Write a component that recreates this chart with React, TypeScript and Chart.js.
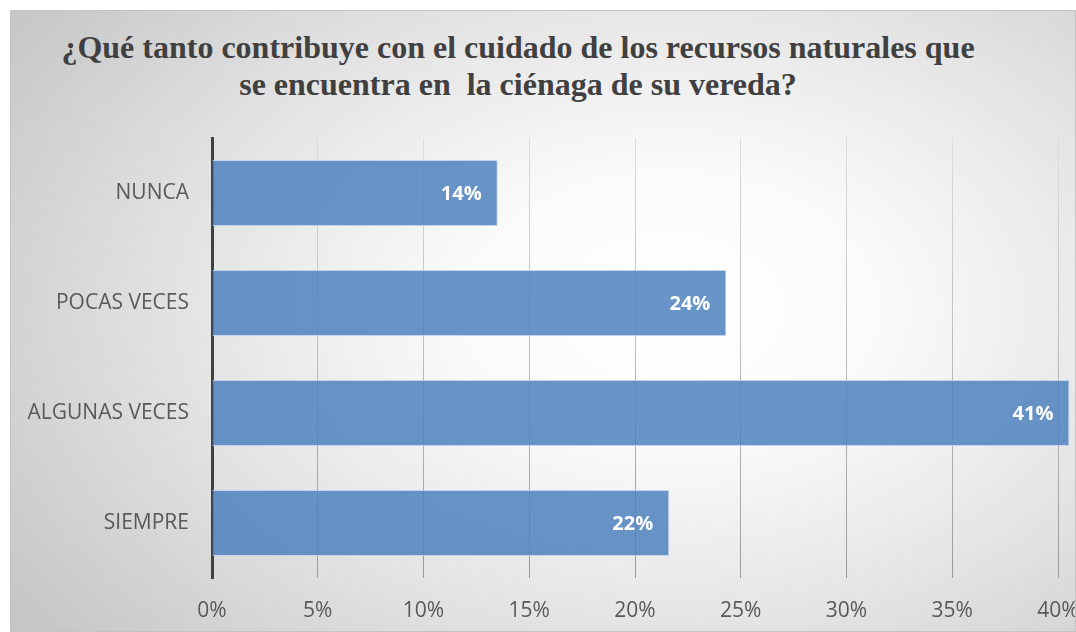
import React, { useEffect, useRef } from 'react';
import { Chart, registerables } from 'chart.js';

Chart.register(...registerables);

const titleLines = [
  '¿Qué tanto contribuye con el cuidado de los recursos naturales que',
  'se encuentra en  la ciénaga de su vereda?',
];
const categories = ['NUNCA', 'POCAS VECES', 'ALGUNAS VECES', 'SIEMPRE'];
const values = [13.51, 24.32, 40.54, 21.62];
const xMin = 0;
const xMax = 40;
const xStep = 5;

const barLabels = {
  id: 'barLabels',
  afterDatasetsDraw(chart: any) {
    const ctx = chart.ctx;
    const meta = chart.getDatasetMeta(0);
    ctx.save();
    ctx.font = 'bold 20px "Open Sans"';
    ctx.fillStyle = '#ffffff';
    ctx.textAlign = 'right';
    ctx.textBaseline = 'middle';
    meta.data.forEach((bar: any, i: number) => {
      ctx.fillText(Math.round(values[i]) + '%', bar.x - 16, bar.y + 1);
    });
    ctx.restore();
  },
};

export default function App() {
  const ref = useRef<HTMLCanvasElement | null>(null);

  useEffect(() => {
    if (!ref.current) return;
    const chart = new Chart(ref.current, {
      type: 'bar',
      data: {
        labels: categories,
        datasets: [
          {
            data: values,
            backgroundColor: 'rgba(79,129,189,0.85)',
            borderColor: 'rgba(190,210,236,0.9)',
            borderWidth: 1,
            barPercentage: 0.6,
            categoryPercentage: 1,
            clip: false as any,
          },
        ],
      },
      options: {
        indexAxis: 'y',
        responsive: false,
        animation: false,
        events: [],
        layout: { padding: { left: 0, right: 17, top: 127, bottom: 0 } },
        plugins: {
          legend: { display: false },
          title: { display: false },
          tooltip: { enabled: false },
        },
        scales: {
          x: {
            min: xMin,
            max: xMax,
            ticks: {
              stepSize: xStep,
              padding: 20,
              color: '#595959',
              font: { family: '"Open Sans"', size: 21 },
              callback: (v: any) => v + '%',
            },
            grid: {
              drawTicks: false,
              lineWidth: 1,
              color: (c: any) => {
                const chart = c.chart;
                const a = chart.chartArea;
                if (!a) return '#bbbbbb';
                const g = chart.ctx.createLinearGradient(0, a.top, 0, a.bottom);
                g.addColorStop(0, '#dddddd');
                g.addColorStop(1, '#9a9a9a');
                return g;
              },
            },
            border: { display: false },
            afterFit: (s: any) => {
              s.height = 53;
              s.paddingLeft = 0;
              s.paddingRight = 0;
            },
          },
          y: {
            z: 1,
            ticks: {
              padding: 23,
              color: '#595959',
              font: { family: '"Open Sans"', size: 21 },
            },
            grid: { drawOnChartArea: false, drawTicks: false },
            border: { display: true, color: '#404040', width: 3 },
            afterFit: (s: any) => {
              s.width = 201;
              s.paddingTop = 0;
              s.paddingBottom = 0;
            },
          },
        },
      },
      plugins: [barLabels],
    });
    return () => chart.destroy();
  }, []);

  return (
    <div
      style={{
        position: 'absolute',
        left: 10,
        top: 10,
        width: 1066,
        height: 622,
        boxSizing: 'border-box',
        border: '1px solid #c4c4c4',
        background:
          'radial-gradient(ellipse 75% 85% at 62% 48%, #ffffff 0%, #fbfbfb 25%, #e4e4e4 60%, #c6c6c6 100%)',
        overflow: 'hidden',
      }}
    >
      <div
        style={{
          position: 'absolute',
          left: 0,
          top: 18,
          width: 1014,
          textAlign: 'center',
          whiteSpace: 'pre',
          fontFamily: '"Liberation Serif", "Times New Roman", serif',
          fontWeight: 'bold',
          fontSize: 32,
          lineHeight: '37px',
          color: '#404040',
        }}
      >
        {titleLines.map((l, i) => (
          <div key={i}>{l}</div>
        ))}
      </div>
      <canvas ref={ref} width={1064} height={620} style={{ position: 'absolute', left: 0, top: 0, display: 'block' }} />
    </div>
  );
}
